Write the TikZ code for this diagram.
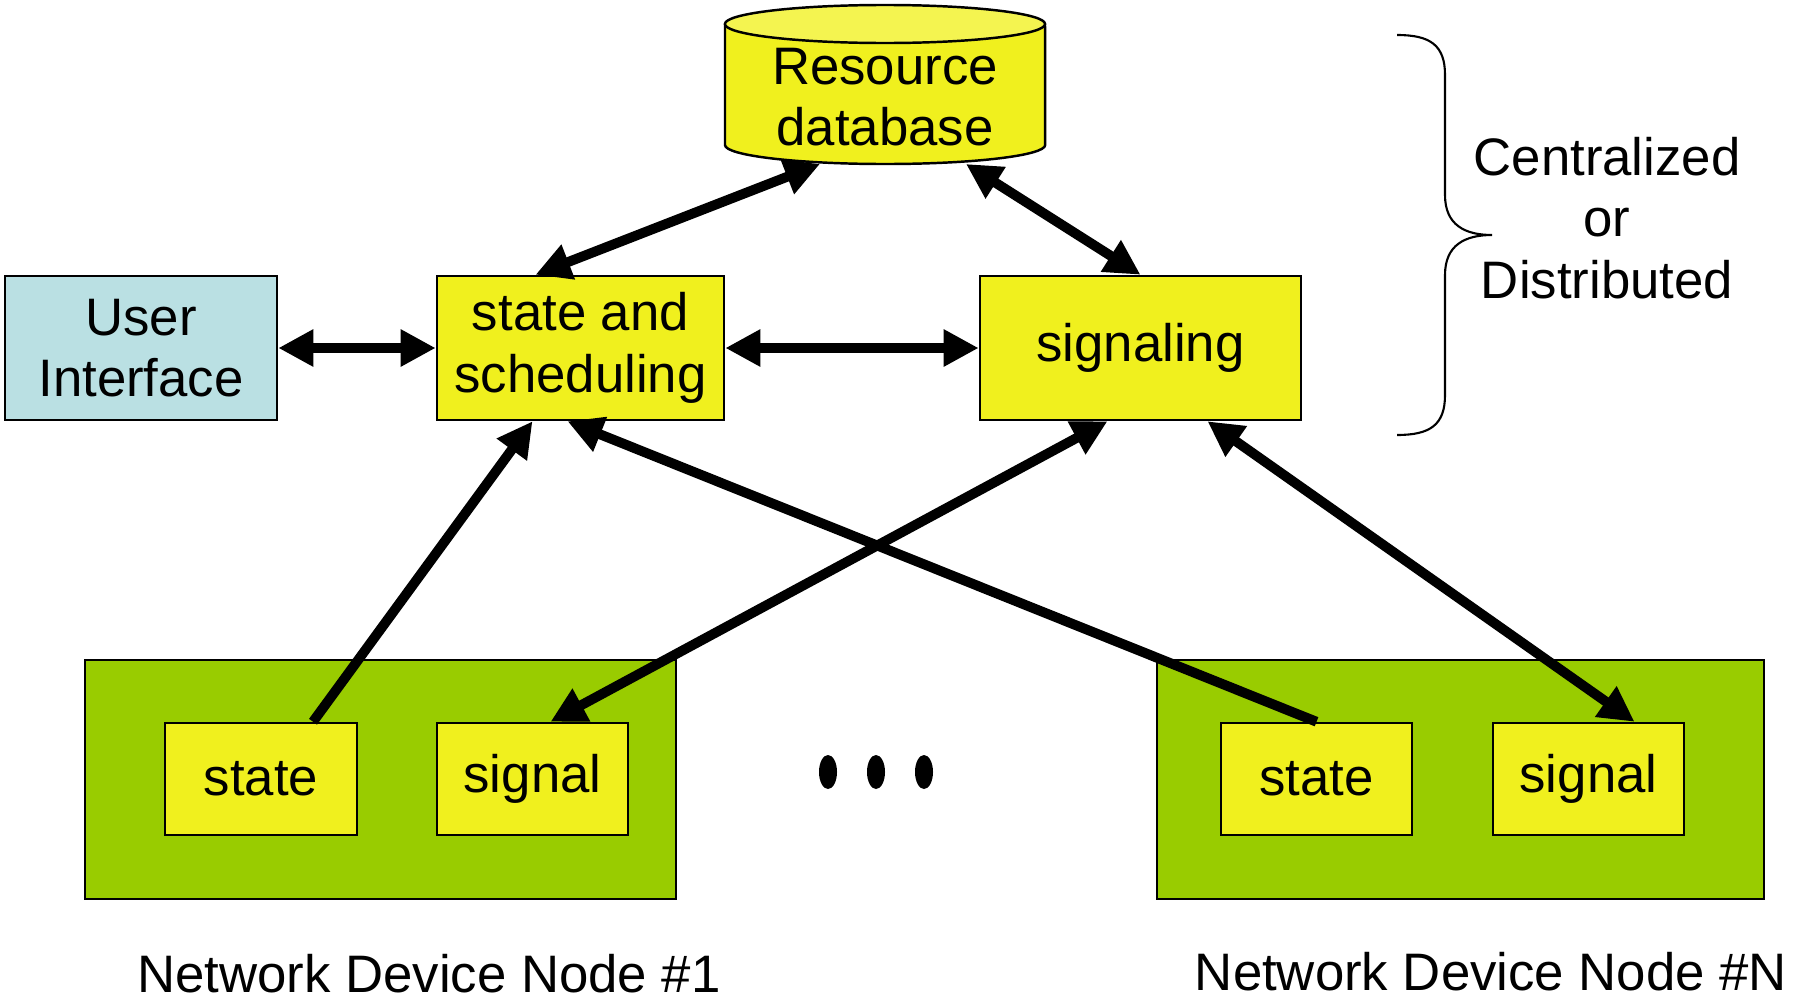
\documentclass[tikz,border=0pt]{standalone}
\usepackage{fontspec}
\setmainfont{Liberation Sans}
\usetikzlibrary{arrows.meta,calc}
\definecolor{boxyellow}{HTML}{F0F01E}
\definecolor{topyellow}{HTML}{F4F450}
\definecolor{devgreen}{HTML}{99CC00}
\definecolor{uiblue}{HTML}{BAE0E3}
\begin{document}
\begin{tikzpicture}[x=0.01cm,y=-0.01cm,
	font=\fontsize{15}{17.5}\selectfont,
	>={Triangle[length=10pt,width=10pt]},
	box/.style={draw,line width=0.7pt,fill=boxyellow,align=center,inner sep=0pt},
	devbox/.style={draw,line width=0.7pt,fill=devgreen,inner sep=0pt},
	link/.style={line width=2.8pt}]
	\useasboundingbox (0,0) rectangle (1794,1003);
	% database cylinder
	\filldraw [fill=boxyellow,line width=0.7pt] (725,24) -- (725,145)
		arc[start angle=180,end angle=360,x radius=1.6cm,y radius=0.19cm] -- (1045,24);
	\filldraw [fill=topyellow,line width=0.7pt] (885,24) ellipse[x radius=1.6cm,y radius=0.19cm];
	\node [align=center] (db) at (885,97) {Resource\\database};
	\coordinate (dbL) at (820,164);
	\coordinate (dbR) at (966,164);
	% upper row
	\node [box,fill=uiblue,minimum width=2.72cm,minimum height=1.44cm] (ui) at (141,348) {User\\Interface};
	\node [box,minimum width=2.87cm,minimum height=1.44cm] (sched) at (580.5,348) {state and\\scheduling};
	\node [box,minimum width=3.21cm,minimum height=1.44cm] (sig) at (1140.5,348) {signaling};
	% device nodes
	\node [devbox,minimum width=5.91cm,minimum height=2.39cm] (dev1) at (380.5,779.5) {};
	\node [devbox,minimum width=6.07cm,minimum height=2.39cm] (devN) at (1460.5,779.5) {};
	\node [box,minimum width=1.92cm,minimum height=1.12cm] (st1) at (261,779) {state};
	\node [box,minimum width=1.91cm,minimum height=1.12cm] (sg1) at (532.5,779) {signal};
	\node [box,minimum width=1.91cm,minimum height=1.12cm] (stN) at (1316.5,779) {state};
	\node [box,minimum width=1.91cm,minimum height=1.12cm] (sgN) at (1588.5,779) {signal};
	\fill (828,772) ellipse[x radius=0.09cm,y radius=0.17cm]
		(876,772) ellipse[x radius=0.09cm,y radius=0.17cm]
		(924,772) ellipse[x radius=0.09cm,y radius=0.17cm];
	\node (lab1) at (429,974) {Network Device Node \#1};
	\node (labN) at (1491,972) {Network Device Node \#N};
	% brace
	\draw [line width=0.6pt] (1397,35) .. controls (1430,35) and (1445,45) .. (1445,75) -- (1445,195)
		.. controls (1445,225) and (1465,235) .. (1492,235)
		.. controls (1465,235) and (1445,245) .. (1445,275) -- (1445,395)
		.. controls (1445,425) and (1430,435) .. (1397,435);
	\node [align=center] (mode) at (1607,218) {Centralized\\or\\Distributed};
	% connectors
	\draw [link,<->] (ui.east) -- (sched.west);
	\draw [link,<->] (sched.east) -- (sig.west);
	\draw [link,<->] ($(sched.north)+(-45,0)$) -- (dbL);
	\draw [link,<->] (dbR) -- (sig.north);
	\draw [link,->] ($(st1.north)+(52,0)$) -- ($(sched.south)+(-48,0)$);
	\draw [link,<->] ($(sg1.north)+(18,0)$) -- ($(sig.south)+(-33,0)$);
	\draw [link,->] (stN.north) -- ($(sched.south)+(-13,0)$);
	\draw [link,<->] ($(sgN.north)+(46,0)$) -- ($(sig.south)+(67,0)$);
\end{tikzpicture}
\end{document}
